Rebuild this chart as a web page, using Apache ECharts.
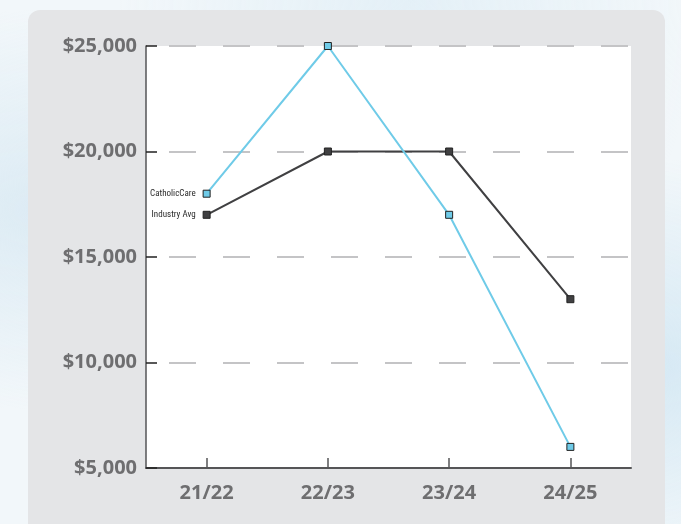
<!DOCTYPE html>
<html>
<head>
<meta charset="utf-8">
<title>Cost per client</title>
<script src="https://cdn.jsdelivr.net/npm/echarts@6/dist/echarts.min.js"></script>
<style>
  html, body { margin: 0; padding: 0; width: 681px; height: 524px; overflow: hidden; }
  body {
    background:
      radial-gradient(ellipse at 8% 40%, #dcebf4 0%, rgba(220,235,244,0) 45%),
      radial-gradient(ellipse at 95% 70%, #d6e9f4 0%, rgba(214,233,244,0) 40%),
      radial-gradient(ellipse at 60% 0%, #e4f0f7 0%, rgba(228,240,247,0) 50%),
      #f2f7fa;
  }
  #panel {
    position: absolute; left: 28px; top: 10px; width: 637px; height: 540px;
    background: #e4e5e7; border-radius: 12px;
  }
  #chart { position: absolute; left: 0; top: 0; width: 681px; height: 524px; }
</style>
</head>
<body>
<div id="panel"></div>
<div id="chart"></div>
<script>
// Financial years shown along the x axis
const years = ['21/22', '22/23', '23/24', '24/25'];

// Cost per client (AUD)
const catholicCare = [18000, 25000, 17000, 6000];
const industryAvg = [17000, 20000, 20000, 13000];

// Value axis range and step
const yMin = 5000;
const yMax = 25000;
const yStep = 5000;

const chart = echarts.init(document.getElementById('chart'), null, { renderer: 'canvas' });

const axisTextStyle = {
  color: '#6e6e70',
  fontFamily: 'Open Sans',
  fontWeight: 'bold',
  fontSize: 20
};

function seriesLabel(name) {
  return {
    show: true,
    position: 'left',
    distance: 7,
    formatter: function (p) { return p.dataIndex === 0 ? name : ''; },
    color: '#2a2a2a',
    fontFamily: '"Roboto Condensed", "Noto Sans", sans-serif',
    fontSize: 9
  };
}

chart.setOption({
  animation: false,
  backgroundColor: 'transparent',
  grid: {
    left: 146, right: 50, top: 46, bottom: 56,
    show: true, backgroundColor: '#ffffff', borderWidth: 0
  },
  xAxis: {
    type: 'category',
    data: years,
    boundaryGap: true,
    axisLine: { show: true, lineStyle: { color: '#555557', width: 2 } },
    axisTick: { show: true, inside: true, length: 10, alignWithLabel: true, lineStyle: { color: '#555557', width: 1.5 } },
    axisLabel: Object.assign({ margin: 15 }, axisTextStyle),
    splitLine: { show: false }
  },
  yAxis: {
    type: 'value',
    min: yMin, max: yMax, interval: yStep,
    axisLine: { show: true, lineStyle: { color: '#555557', width: 1.5 } },
    axisTick: { show: true, inside: true, length: 11, lineStyle: { color: '#222222', width: 1.5 } },
    axisLabel: Object.assign({
      margin: 9,
      formatter: function (v) { return '$' + v.toLocaleString('en-US'); }
    }, axisTextStyle),
    splitLine: {
      show: true,
      lineStyle: { color: '#c4c4c6', width: 2, type: [27, 27], dashOffset: 31 }
    }
  },
  series: [
    {
      name: 'Industry Avg',
      type: 'line',
      data: industryAvg,
      symbol: 'rect',
      symbolSize: 7,
      lineStyle: { color: '#404042', width: 2 },
      itemStyle: { color: '#404042', borderColor: '#222222', borderWidth: 1 },
      label: seriesLabel('Industry Avg'),
      z: 3
    },
    {
      name: 'CatholicCare',
      type: 'line',
      data: catholicCare,
      symbol: 'rect',
      symbolSize: 7,
      lineStyle: { color: '#6fcbe8', width: 2 },
      itemStyle: { color: '#6fcbe8', borderColor: '#222222', borderWidth: 1 },
      label: seriesLabel('CatholicCare'),
      z: 4
    }
  ]
});
</script>
</body>
</html>
